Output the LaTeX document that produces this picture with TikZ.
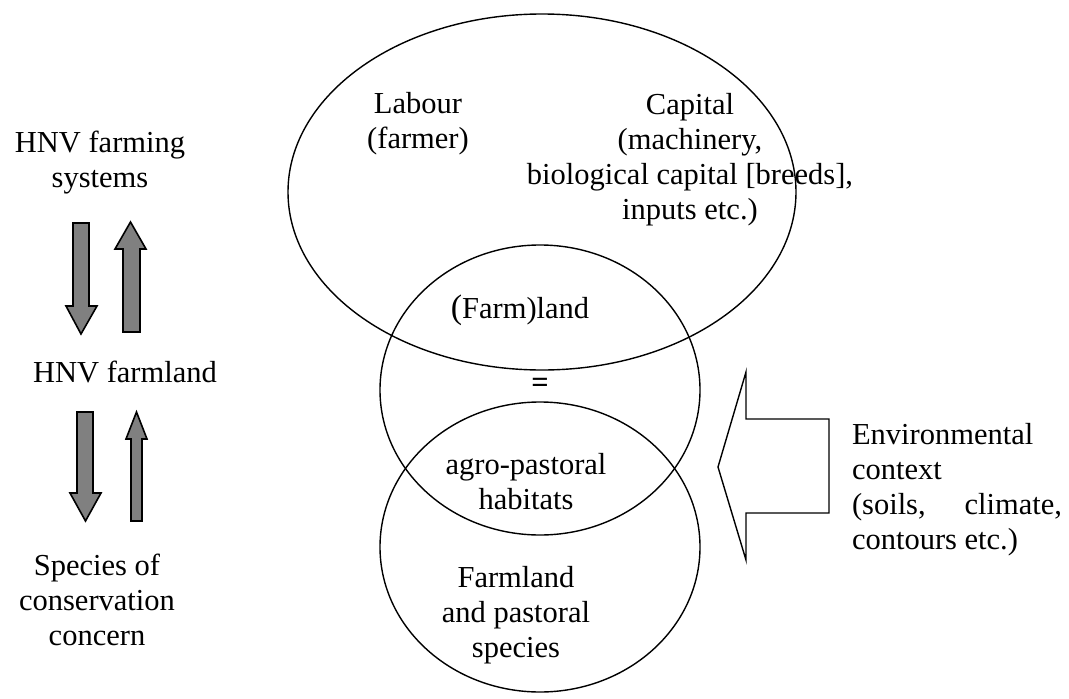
\documentclass[tikz,border=0pt]{standalone}
\usepackage{fontspec}
\setmainfont{Liberation Serif}
\definecolor{arrowgray}{RGB}{128,128,128}
\begin{document}
\begin{tikzpicture}[x=1pt,y=-1pt,
  every node/.style={font=\fontsize{30.5}{35}\selectfont, inner sep=0pt, outer sep=0pt},
  label/.style={align=center},
  setline/.style={draw=black, line width=1.4pt},
  flowarrow/.style={draw=black, line width=1.6pt, fill=arrowgray, line join=miter},
  contextarrow/.style={draw=black, line width=1.4pt, fill=white, line join=miter}]
\useasboundingbox (0,0) rectangle (1069,699);

% resource sets
\draw[setline] (542,192) ellipse [x radius=254pt, y radius=178pt];
\draw[setline] (540,390) ellipse [x radius=160pt, y radius=145pt];
\draw[setline] (540,547) ellipse [x radius=160pt, y radius=145pt];

% two-way links between the levels on the left
\draw[flowarrow] (73,223) -- (89,223) -- (89,306) -- (97,306) -- (81,334) -- (66,306) -- (73,306) -- cycle;
\draw[flowarrow] (123,332) -- (140,332) -- (140,249) -- (146,249) -- (130.5,222) -- (115,249) -- (123,249) -- cycle;
\draw[flowarrow] (77,412) -- (93,412) -- (93,493) -- (101,493) -- (85.5,521) -- (70,493) -- (77,493) -- cycle;
\draw[flowarrow] (131,521) -- (142,521) -- (142,439) -- (147,439) -- (136.5,412) -- (126,439) -- (131,439) -- cycle;

% environmental influence
\draw[contextarrow] (829,419) -- (746,419) -- (746,372) -- (718,467) -- (746,560) -- (746,513) -- (829,513) -- cycle;

% left column
\node[label] (systems) at (100,163) {HNV farming\\systems};
\node[label] (hnvland) at (125,372) {HNV farmland};
\node[label] (concern) at (97,600) {Species of\\conservation\\concern};

% labels inside the sets
\node[label] (labour) at (418,124) {Labour\\(farmer)};
\node[label] (capital) at (690,160) {Capital\\(machinery,\\biological capital [breeds],\\inputs etc.)};
\node[label] (farmland) at (520,310) {{\fontsize{34}{35}\selectfont (}Farm)land};
\node[label] (equals) at (540,385) {\textbf{=}};
\node[label] (habitats) at (526,482) {agro-pastoral\\habitats};
\node[label] (pastoral) at (516,615) {Farmland\\and pastoral\\species};

% context text on the right
\node[align=left, anchor=west] (context) at (852,490)
  {Environmental\\context\\\makebox[210pt][s]{(soils, climate,}\\contours etc.)};
\end{tikzpicture}
\end{document}
